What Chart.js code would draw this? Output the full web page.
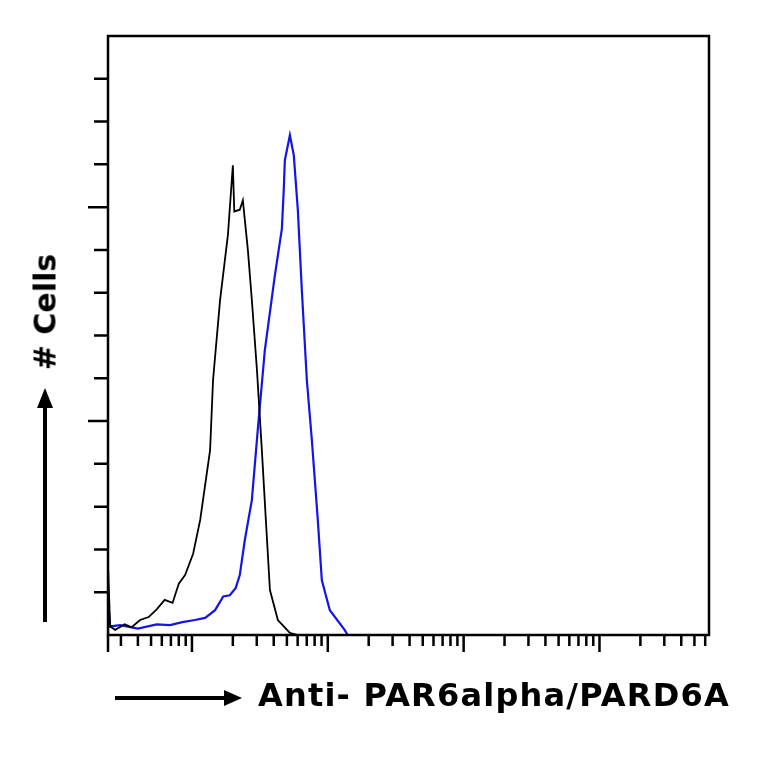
<!DOCTYPE html><html><head><meta charset="utf-8">
<script src="https://cdn.jsdelivr.net/npm/chart.js@4"></script>
<style>body{margin:0;background:#fff;width:764px;height:764px;position:relative;overflow:hidden;font-family:"DejaVu Sans",sans-serif}
#c{position:absolute;left:0;top:0}
.lbl{position:absolute;font-weight:bold;color:#000;white-space:nowrap}
</style></head><body>
<canvas id="c" width="764" height="764"></canvas>
<div class="lbl" id="xl" style="left:258px;top:676px;font-size:32px;letter-spacing:1.2px">Anti- PAR6alpha/PARD6A</div>
<div class="lbl" id="yl" style="left:45px;top:312px;font-size:30px;transform:translate(-50%,-50%) rotate(-90deg)"># Cells</div>
<script>
const blackX=[2.41,2.41,2.5,2.72,3.2,3.6,4.15,4.8,5.5,6.3,7.2,8.0,8.9,10.2,11.5,13.6,14.3,16.1,18.4,20.0,20.5,22.5,23.7,25.8,27.6,30.1,32.7,35.0,37.5,42.9,52.6,60];
const blackY=[0,163,20,12,25,18,35,42,60,82,75,120,140,190,269,432,596,782,935,1098,990,994,1016,900,783,619,432,269,105,35,5,0];
const blueX=[2.41,2.41,2.5,2.96,4,5.5,6.9,8.5,10.5,12.5,14.8,17,19.0,21,22.5,24.5,27.6,30.5,34.4,40.8,45.9,47.4,48.3,52.6,56.2,60.2,64.4,70.1,76.3,84.4,90.4,103.5,133,140];
const blueY=[0,80,20,23,15,25,23,30,35,40,58,90,93,110,140,222,315,479,666,841,949,1040,1110,1168,1121,993,806,596,456,269,128,58,12,0];
const xMin=2.41,xMax=64000,yMax=1400;
const xMajor=[10,100,1000,10000];
const xMinor=[3,4,5,6,7,8,9,20,30,40,50,60,70,80,90,200,300,400,500,600,700,800,900,2000,3000,4000,5000,6000,7000,8000,9000,20000,30000,40000,50000,60000];
const yTicks=[100,200,300,400,500,600,700,800,900,1000,1100,1200,1300];
const yMajor=[500,1000];
const pts=(xs,ys)=>xs.map((x,i)=>({x:x,y:ys[i]}));
const frame={id:'frame',afterDraw(ch){const c=ch.ctx,a=ch.chartArea,sx=ch.scales.x,sy=ch.scales.y;
c.save();c.strokeStyle='#000';c.lineWidth=2.5;c.strokeRect(a.left,a.top,a.right-a.left,a.bottom-a.top);
c.beginPath();
xMinor.forEach(v=>{const p=sx.getPixelForValue(v);c.moveTo(p,a.bottom);c.lineTo(p,a.bottom+11);});
xMajor.forEach(v=>{const p=sx.getPixelForValue(v);c.moveTo(p,a.bottom);c.lineTo(p,a.bottom+17);});
c.moveTo(a.left,a.bottom);c.lineTo(a.left,a.bottom+17);
yTicks.forEach(v=>{const p=sy.getPixelForValue(v);const l=yMajor.includes(v)?20:14;c.moveTo(a.left,p);c.lineTo(a.left-l,p);});
c.stroke();
c.lineWidth=4;c.beginPath();c.moveTo(115,698);c.lineTo(228,698);c.moveTo(45,622);c.lineTo(45,405);c.stroke();
c.fillStyle='#000';c.beginPath();c.moveTo(242,698);c.lineTo(224,690);c.lineTo(224,706);c.closePath();c.fill();
c.beginPath();c.moveTo(45,388);c.lineTo(37,408);c.lineTo(53,408);c.closePath();c.fill();
c.restore();}};
new Chart(document.getElementById('c'),{type:'scatter',data:{datasets:[
{data:pts(blackX,blackY),showLine:true,borderColor:'#000',borderWidth:1.8,pointRadius:0,tension:0},
{data:pts(blueX,blueY),showLine:true,borderColor:'#1414e6',borderWidth:2.2,pointRadius:0,tension:0}]},
options:{responsive:false,animation:false,events:[],layout:{padding:{left:108,right:55,top:36,bottom:129}},
plugins:{legend:{display:false},tooltip:{enabled:false}},
scales:{x:{type:'logarithmic',min:xMin,max:xMax,display:false},y:{min:0,max:yMax,display:false}}},plugins:[frame]});
</script></body></html>
